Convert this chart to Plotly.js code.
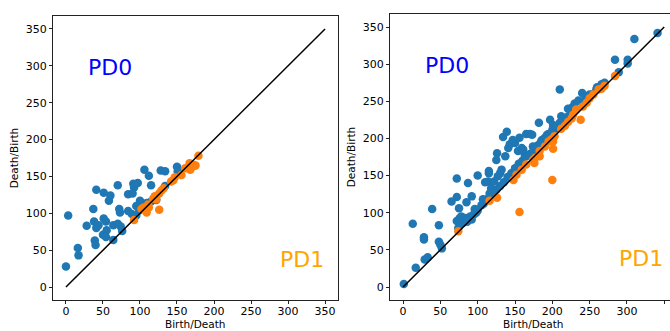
<!DOCTYPE html>
<html>
<head>
<meta charset="utf-8">
<script src="https://cdn.plot.ly/plotly-3.0.1.min.js"></script>
<style>html,body{margin:0;padding:0;background:#fff;}</style>
</head>
<body>
<div id="chart" style="width:670px;height:331px;"></div>
<script>
// ---- Left diagram data ----
const leftPD0x = [0,3,16,17,28,37,41,38,41,44,39,40,51,51,54,50,55,54,60,58,64,64,70,72,73,70,74,76,84,91,92,97,90,84,89,95,100,102,99,95,106,112,115,119,122,128,134,134,150,151,109,104,110,115];
const leftPD0y = [28,97,53,43,83,106,132,89,80,84,63,57,128,93,89,71,77,68,124,117,64,84,138,106,101,86,82,76,126,140,135,141,127,103,99,110,117,114,104,97,159,151,138,119,118,158,157,137,163,157,114,109,112,116];
const leftPD1x = [92,102,105,109,111,118,122,126,126,129,132,142,145,147,156,161,165,167,168,173,175,179,172,112,120];
const leftPD1y = [91,106,108,101,112,120,119,105,127,131,134,143,145,149,152,161,161,168,159,164,165,178,166,108,123];

// ---- Right diagram data ----
const rightPD0x = [1,13,17,28,28,29,33,39,48,48,50,52,65,72,72,75,72,76,78,74,80,83,85,87,92,86,89,92,96,100,98,110,114,107,115,115,116,118,122,126,125,127,130,132,134,139,137,141,143,150,147,156,154,159,161,163,165,170,173,174,177,182,183,186,193,197,201,203,210,212,221,227,230,235,240,244,253,259,266,270,284,289,301,301,310,341,
  120,125,130,135,140,145,150,155,160,165,170,175,180,185,190,195,200,205,210,215,220,225,230,240,245,250,260,100,105,108,112,95,90,85];
const rightPD0y = [4,85,26,67,64,37,40,105,83,61,57,52,115,121,146,106,89,93,95,79,86,93,114,140,122,88,93,91,105,150,100,141,142,118,156,153,126,133,142,180,171,149,153,158,202,209,176,187,192,194,198,201,183,187,185,178,206,206,205,189,185,221,192,198,205,225,218,212,266,230,240,242,247,251,261,252,259,266,273,275,306,289,306,301,334,342,
  125,131,136,141,148,153,160,166,170,176,179,184,190,196,201,206,211,216,221,226,229,236,241,249,256,259,269,103,110,112,118,98,95,90];
const rightPD1x = [74,116,126,156,200,201,148,152,159,165,176,174,183,183,190,195,199,203,201,212,217,221,226,228,238,232,241,246,250,255,262,266,270,284,177];
const rightPD1y = [75,116,120,101,144,186,144,151,158,165,167,171,176,183,189,196,199,203,196,213,217,222,227,232,225,239,243,248,254,259,266,267,271,284,174];

// ---- Diagonal and labels ----
const diagX = [0, 350];
const diagY = [0, 350];
const tickVals = [0, 50, 100, 150, 200, 250, 300, 350];
const labelText = ["PD0", "PD1"];
const labelX = [59, 319];
const labelY = [298, 38];
const xTitle = "Birth/Death";
const yTitle = "Death/Birth";

const blue = '#1f77b4', orange = '#ff7f0e';
const mk = (c) => ({color: c, size: 8.5, line: {width: 0}});

const traces = [
  {x: leftPD0x, y: leftPD0y, type: 'scatter', mode: 'markers', marker: mk(blue), xaxis: 'x', yaxis: 'y', hoverinfo: 'skip'},
  {x: leftPD1x, y: leftPD1y, type: 'scatter', mode: 'markers', marker: mk(orange), xaxis: 'x', yaxis: 'y', hoverinfo: 'skip'},
  {x: diagX, y: diagY, type: 'scatter', mode: 'lines', line: {color: 'black', width: 1.5}, xaxis: 'x', yaxis: 'y'},
  {x: rightPD0x, y: rightPD0y, type: 'scatter', mode: 'markers', marker: mk(blue), xaxis: 'x2', yaxis: 'y2', hoverinfo: 'skip'},
  {x: rightPD1x, y: rightPD1y, type: 'scatter', mode: 'markers', marker: mk(orange), xaxis: 'x2', yaxis: 'y2', hoverinfo: 'skip'},
  {x: diagX, y: diagY, type: 'scatter', mode: 'lines', line: {color: 'black', width: 1.5}, xaxis: 'x2', yaxis: 'y2'}
];

const font = {family: 'DejaVu Sans', size: 11, color: '#000'};
const titleFont = {family: 'DejaVu Sans', size: 10.5, color: '#000'};
const axBase = {
  showgrid: false, zeroline: false, showline: true, linecolor: '#222', linewidth: 1,
  ticks: 'outside', ticklen: 3, tickwidth: 1, tickcolor: '#222',
  tickvals: tickVals, tickfont: font, automargin: false, fixedrange: true
};

const ann = [];
const refs = [['x','y'], ['x2','y2']];
refs.forEach(([xr, yr]) => {
  labelText.forEach((t, i) => {
    ann.push({text: t, x: labelX[i], y: labelY[i], xref: xr, yref: yr, showarrow: false,
      font: {family: 'DejaVu Sans', size: 22, color: i === 0 ? '#0000ff' : '#ffa500'}});
  });
  // x-axis title, placed as in the reference, just above the bottom edge
  ann.push({text: xTitle, x: 175, xref: xr, y: 0, yref: 'paper', yanchor: 'bottom',
    showarrow: false, font: titleFont, borderpad: 0});
});

const layout = {
  width: 670, height: 331,
  margin: {l: 0, r: 0, t: 0, b: 0},
  paper_bgcolor: '#fff', plot_bgcolor: '#fff',
  showlegend: false,
  font: font,
  xaxis: Object.assign({}, axBase, {domain: [53/670, 338/670], range: [-17.5, 367.5], mirror: true, ticklabelstandoff: -2}),
  yaxis: Object.assign({}, axBase, {domain: [1 - 300/331, 1 - 16/331], range: [-17.5, 367.5], mirror: true,
    title: {text: yTitle, font: titleFont, standoff: 5}}),
  xaxis2: Object.assign({}, axBase, {domain: [390/670, 1], range: [-17.5, 357.7], mirror: true, anchor: 'y2', ticklabelstandoff: -2}),
  yaxis2: Object.assign({}, axBase, {domain: [1 - 300/331, 1 - 14/331], range: [-17.5, 367.5], mirror: false, anchor: 'x2',
    title: {text: yTitle, font: titleFont, standoff: 5}}),
  annotations: ann
};

Plotly.newPlot('chart', traces, layout, {staticPlot: true, displayModeBar: false});
</script>
</body>
</html>
